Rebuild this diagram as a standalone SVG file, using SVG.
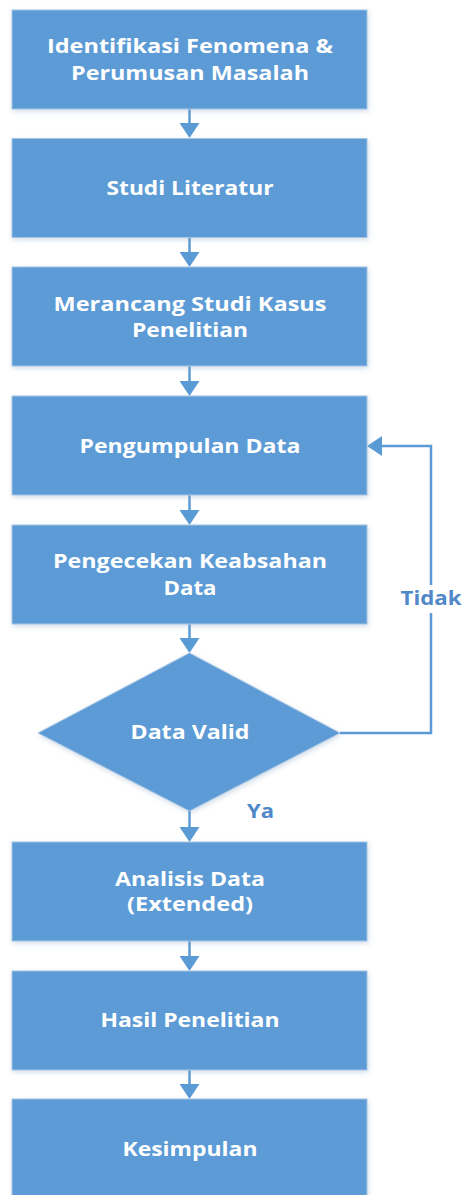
<svg xmlns="http://www.w3.org/2000/svg" width="464" height="1195" viewBox="0 0 464 1195">
<defs>
<style>
.box{fill:#5B9BD5;stroke:#A7C5E4;stroke-width:1;filter:url(#sh)}
.t{font-family:"Open Sans","Liberation Sans",sans-serif;font-weight:bold;font-size:20px;fill:#FFFFFF;text-anchor:middle}
.lbl{font-family:"Open Sans","Liberation Sans",sans-serif;font-weight:bold;font-size:20px;fill:#5088C8;text-anchor:middle}
.c{fill:none;stroke:#5B9BD5;stroke-width:2.5}
</style>
<filter id="sh" x="-10%" y="-10%" width="120%" height="130%">
<feDropShadow dx="1" dy="2" stdDeviation="2.5" flood-color="#7F9FC0" flood-opacity="0.35"/>
</filter>
<marker id="ah" markerUnits="userSpaceOnUse" markerWidth="15" markerHeight="20" viewBox="0 0 15 20" refX="11" refY="10" orient="auto">
<path d="M0,0 L15,10 L0,20 z" fill="#5B9BD5"/>
</marker>
</defs>
<g id="connectors">
<path class="c" d="M189.5 109 V134" marker-end="url(#ah)"/>
<path class="c" d="M189.5 238 V263" marker-end="url(#ah)"/>
<path class="c" d="M189.5 366 V392" marker-end="url(#ah)"/>
<path class="c" d="M189.5 495 V521" marker-end="url(#ah)"/>
<path class="c" d="M189.5 624 V649" marker-end="url(#ah)"/>
<path class="c" d="M189.5 811 V838" marker-end="url(#ah)"/>
<path class="c" d="M189.5 941 V967" marker-end="url(#ah)"/>
<path class="c" d="M189.5 1070 V1095" marker-end="url(#ah)"/>
<path class="c" d="M340 733 H431 V613"/>
<path class="c" d="M431 585 V446 H371" marker-end="url(#ah)"/>
<text class="lbl" x="431" y="605" textLength="61" lengthAdjust="spacingAndGlyphs">Tidak</text>
<text class="lbl" x="260.5" y="818" textLength="27" lengthAdjust="spacingAndGlyphs">Ya</text>
</g>
<g id="n1"><rect class="box" x="12" y="10" width="355" height="99"/>
<text class="t" x="190" y="53" textLength="286" lengthAdjust="spacingAndGlyphs">Identifikasi Fenomena &amp;</text>
<text class="t" x="190" y="80" textLength="238" lengthAdjust="spacingAndGlyphs">Perumusan Masalah</text></g>
<g id="n2"><rect class="box" x="12" y="138.5" width="355" height="99"/>
<text class="t" x="190" y="194.5" textLength="167" lengthAdjust="spacingAndGlyphs">Studi Literatur</text></g>
<g id="n3"><rect class="box" x="12" y="267" width="355" height="99"/>
<text class="t" x="190" y="311" textLength="273" lengthAdjust="spacingAndGlyphs">Merancang Studi Kasus</text>
<text class="t" x="190" y="337" textLength="116" lengthAdjust="spacingAndGlyphs">Penelitian</text></g>
<g id="n4"><rect class="box" x="12" y="396" width="355" height="99"/>
<text class="t" x="190" y="452.5" textLength="221" lengthAdjust="spacingAndGlyphs">Pengumpulan Data</text></g>
<g id="n5"><rect class="box" x="12" y="525" width="355" height="99"/>
<text class="t" x="190" y="568" textLength="274" lengthAdjust="spacingAndGlyphs">Pengecekan Keabsahan</text>
<text class="t" x="190" y="594.5" textLength="53" lengthAdjust="spacingAndGlyphs">Data</text></g>
<g id="n6"><polygon class="box" points="189.5,653 340,733 189.5,811 38,733"/>
<text class="t" x="190" y="739" textLength="119" lengthAdjust="spacingAndGlyphs">Data Valid</text></g>
<g id="n7"><rect class="box" x="12" y="842" width="355" height="99"/>
<text class="t" x="190" y="885.5" textLength="150" lengthAdjust="spacingAndGlyphs">Analisis Data</text>
<text class="t" x="190" y="911" textLength="126" lengthAdjust="spacingAndGlyphs">(Extended)</text></g>
<g id="n8"><rect class="box" x="12" y="971" width="355" height="99"/>
<text class="t" x="190" y="1027" textLength="179" lengthAdjust="spacingAndGlyphs">Hasil Penelitian</text></g>
<g id="n9"><rect class="box" x="12" y="1099" width="355" height="110"/>
<text class="t" x="190" y="1156" textLength="135" lengthAdjust="spacingAndGlyphs">Kesimpulan</text></g>
</svg>
